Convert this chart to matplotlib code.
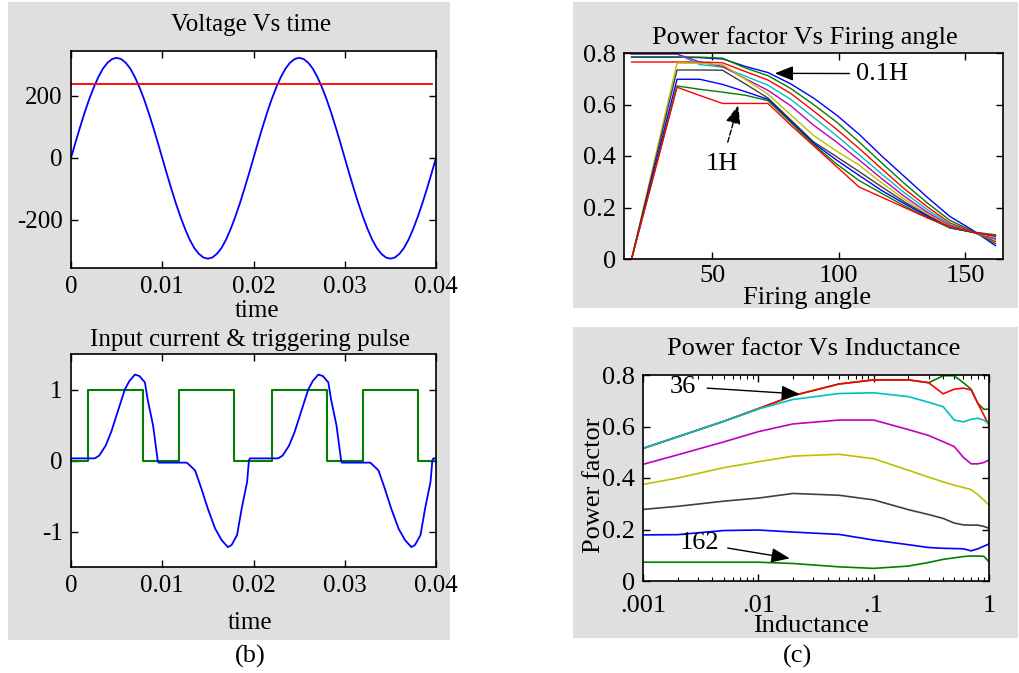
import numpy as np
import matplotlib
matplotlib.use("Agg")
import matplotlib.pyplot as plt
from matplotlib.patches import Rectangle
from matplotlib.ticker import LogLocator, NullFormatter

plt.rcParams['font.family'] = ['Liberation Serif', 'DejaVu Serif']
plt.rcParams['axes.unicode_minus'] = False

# ---------------- data ----------------
# (b) top: supply voltage (sampled every 0.5 ms) and firing level
t_volt = [0.0000, 0.0005, 0.0010, 0.0015, 0.0020, 0.0025, 0.0030, 0.0035, 0.0040, 0.0045,
          0.0050, 0.0055, 0.0060, 0.0065, 0.0070, 0.0075, 0.0080, 0.0085, 0.0090, 0.0095,
          0.0100, 0.0105, 0.0110, 0.0115, 0.0120, 0.0125, 0.0130, 0.0135, 0.0140, 0.0145,
          0.0150, 0.0155, 0.0160, 0.0165, 0.0170, 0.0175, 0.0180, 0.0185, 0.0190, 0.0195,
          0.0200, 0.0205, 0.0210, 0.0215, 0.0220, 0.0225, 0.0230, 0.0235, 0.0240, 0.0245,
          0.0250, 0.0255, 0.0260, 0.0265, 0.0270, 0.0275, 0.0280, 0.0285, 0.0290, 0.0295,
          0.0300, 0.0305, 0.0310, 0.0315, 0.0320, 0.0325, 0.0330, 0.0335, 0.0340, 0.0345,
          0.0350, 0.0355, 0.0360, 0.0365, 0.0370, 0.0375, 0.0380, 0.0385, 0.0390, 0.0395,
          0.0400]
volt = [0, 51, 100, 147, 190, 228, 261, 288, 307, 319,
        323, 319, 307, 288, 261, 228, 190, 147, 100, 51,
        0, -51, -100, -147, -190, -229, -263, -290, -309, -321,
        -325, -321, -309, -290, -263, -229, -190, -147, -100, -51,
        0, 51, 100, 147, 190, 228, 261, 288, 307, 319,
        323, 319, 307, 288, 261, 228, 190, 147, 100, 51,
        0, -51, -100, -147, -190, -229, -263, -290, -309, -321,
        -325, -321, -309, -290, -263, -229, -190, -147, -100, -51,
        0]
t_level = [0.0, 0.0396]
level = [240, 240]

# (b) bottom: input current and triggering pulse
t_cur = [0.0000, 0.0026, 0.0031, 0.0038, 0.0044, 0.0051, 0.0059, 0.0064, 0.0070,
         0.0075, 0.0081, 0.0084, 0.0090, 0.0095, 0.0096, 0.0127, 0.0136, 0.0143,
         0.0150, 0.0158, 0.0165, 0.0172, 0.0176, 0.0182, 0.0187, 0.0193, 0.0195,
         0.0196, 0.0220, 0.0227, 0.0232, 0.0239, 0.0245, 0.0252, 0.0260, 0.0265,
         0.0271, 0.0276, 0.0282, 0.0285, 0.0291, 0.0296, 0.0297, 0.0328, 0.0337,
         0.0344, 0.0351, 0.0359, 0.0366, 0.0373, 0.0377, 0.0383, 0.0388, 0.0394,
         0.0396, 0.0397, 0.0400]
cur = [0.03, 0.03, 0.07, 0.21, 0.40, 0.68, 1.00, 1.12, 1.21,
       1.19, 1.10, 0.86, 0.49, 0.00, -0.03, -0.03, -0.14, -0.40,
       -0.68, -0.96, -1.12, -1.22, -1.19, -1.05, -0.68, -0.30, 0.00,
       0.03, 0.03, 0.03, 0.07, 0.21, 0.40, 0.68, 1.00, 1.12,
       1.21, 1.19, 1.10, 0.86, 0.49, 0.00, -0.03, -0.03, -0.14,
       -0.40, -0.68, -0.96, -1.12, -1.22, -1.19, -1.05, -0.68, -0.30,
       0.00, 0.03, 0.03]
t_pulse = [0.0, 0.0019, 0.0079, 0.0118, 0.0179, 0.0220, 0.0281, 0.0320, 0.0380, 0.0400]
pulse = [0, 1, 0, 1, 0, 1, 0, 1, 0, 0]

# (c) top: power factor vs firing angle, one curve per inductance (0.1H .. 1H)
angles = [18, 27, 36, 45, 54, 63, 72, 81, 90, 99, 108, 117, 126, 135, 144, 153, 162]
pf_01H = [0.784, 0.784, 0.784, 0.782, 0.777, 0.748, 0.724, 0.680, 0.625, 0.560, 0.485, 0.400, 0.320, 0.240, 0.165, 0.112, 0.052]
pf_02H = [0.784, 0.784, 0.784, 0.784, 0.780, 0.742, 0.712, 0.662, 0.600, 0.533, 0.455, 0.373, 0.293, 0.218, 0.150, 0.108, 0.060]
pf_03H = [0.765, 0.765, 0.765, 0.765, 0.762, 0.728, 0.695, 0.643, 0.575, 0.505, 0.430, 0.350, 0.272, 0.203, 0.140, 0.105, 0.068]
pf_04H = [0.796, 0.796, 0.796, 0.755, 0.745, 0.710, 0.675, 0.620, 0.550, 0.480, 0.405, 0.330, 0.257, 0.192, 0.134, 0.104, 0.075]
pf_05H = [0.796, 0.796, 0.796, 0.765, 0.748, 0.700, 0.655, 0.595, 0.520, 0.455, 0.385, 0.312, 0.243, 0.182, 0.129, 0.104, 0.080]
pf_06H = [0.000, 0.380, 0.761, 0.760, 0.755, 0.698, 0.640, 0.560, 0.480, 0.420, 0.365, 0.296, 0.232, 0.176, 0.125, 0.104, 0.085]
pf_07H = [0.000, 0.367, 0.734, 0.734, 0.733, 0.680, 0.625, 0.540, 0.455, 0.398, 0.340, 0.280, 0.222, 0.170, 0.122, 0.104, 0.090]
pf_08H = [0.000, 0.349, 0.698, 0.698, 0.678, 0.650, 0.620, 0.535, 0.450, 0.385, 0.325, 0.266, 0.215, 0.166, 0.121, 0.104, 0.090]
pf_09H = [0.000, 0.336, 0.672, 0.659, 0.648, 0.636, 0.615, 0.530, 0.445, 0.370, 0.305, 0.255, 0.206, 0.161, 0.121, 0.105, 0.094]
pf_10H = [0.000, 0.333, 0.667, 0.635, 0.604, 0.604, 0.604, 0.520, 0.440, 0.360, 0.280, 0.240, 0.200, 0.160, 0.125, 0.105, 0.090]

# (c) bottom: power factor vs inductance, one curve per firing angle (36 .. 162)
induct = [0.001, 0.002, 0.005, 0.01, 0.02, 0.05, 0.1, 0.2, 0.3, 0.4, 0.5, 0.6, 0.7, 0.8, 0.9, 1.0]
pf_a36 = [0.515, 0.560, 0.620, 0.668, 0.720, 0.765, 0.781, 0.781, 0.770, 0.797, 0.797, 0.770, 0.745, 0.690, 0.667, 0.667]
pf_a54 = [0.515, 0.560, 0.620, 0.670, 0.720, 0.765, 0.781, 0.781, 0.770, 0.727, 0.745, 0.749, 0.742, 0.690, 0.645, 0.605]
pf_a72 = [0.515, 0.560, 0.620, 0.668, 0.705, 0.728, 0.731, 0.716, 0.694, 0.677, 0.625, 0.618, 0.628, 0.632, 0.625, 0.610]
pf_a90 = [0.453, 0.490, 0.540, 0.580, 0.610, 0.625, 0.625, 0.588, 0.565, 0.541, 0.522, 0.480, 0.455, 0.455, 0.460, 0.470]
pf_a108 = [0.375, 0.400, 0.440, 0.463, 0.485, 0.492, 0.475, 0.430, 0.403, 0.385, 0.372, 0.363, 0.355, 0.335, 0.315, 0.295]
pf_a126 = [0.278, 0.290, 0.310, 0.322, 0.340, 0.333, 0.315, 0.277, 0.258, 0.243, 0.225, 0.218, 0.217, 0.217, 0.212, 0.205]
pf_a144 = [0.179, 0.180, 0.196, 0.198, 0.190, 0.181, 0.159, 0.141, 0.130, 0.127, 0.126, 0.125, 0.117, 0.125, 0.135, 0.144]
pf_a162 = [0.073, 0.073, 0.073, 0.073, 0.068, 0.055, 0.049, 0.058, 0.072, 0.084, 0.090, 0.095, 0.097, 0.097, 0.096, 0.075]

# old matlab line colours
C_B = (0, 0, 1)
C_G = (0, 0.5, 0)
C_R = (1, 0, 0)
C_C = (0, 0.75, 0.75)
C_M = (0.75, 0, 0.75)
C_Y = (0.75, 0.75, 0)
C_K = (0.25, 0.25, 0.25)

# ---------------- figure / layout in pixels ----------------
W, H = 1019, 673
fig = plt.figure(figsize=(W / 100, H / 100), dpi=100)
fig.patch.set_facecolor('white')
GRAY = (0.875, 0.875, 0.875)
ARROW = '-|>,head_length=0.75,head_width=0.3'


def px_rect(l, t, r, b):
    return [l / W, 1 - b / H, (r - l) / W, (b - t) / H]


def gray_panel(l, t, r, b):
    # drawn below the axes
    fig.patches.append(Rectangle((l / W, 1 - b / H), (r - l) / W, (b - t) / H,
                                 transform=fig.transFigure, facecolor=GRAY,
                                 edgecolor='none', zorder=-10))


def ftext(x, y, s, size, **kw):
    fig.text(x / W, 1 - y / H, s, fontsize=size, ha='center', va='baseline', **kw)


def matlab_axes(ax, size):
    ax.set_facecolor('white')
    for sp in ax.spines.values():
        sp.set_linewidth(1.2)
        sp.set_color('black')
    ax.tick_params(direction='in', top=True, right=True, length=5, width=1.0,
                   labelsize=size, pad=6, colors='black')


gray_panel(8, 2, 450, 640)
gray_panel(573, 2, 1018, 308)
gray_panel(573, 327, 1018, 638)

# ---- (b) top: voltage ----
ax1 = fig.add_axes(px_rect(71, 51, 436, 268))
matlab_axes(ax1, 18)
ax1.plot(t_volt, volt, color=C_B, lw=1.3)
ax1.plot(t_level, level, color=C_R, lw=1.3)
ax1.set_xlim(0, 0.04)
ax1.set_ylim(-355, 345)
ax1.set_xticks([0, 0.01, 0.02, 0.03, 0.04])
ax1.set_xticklabels(['0', '0.01', '0.02', '0.03', '0.04'])
ax1.set_yticks([-200, 0, 200])
ftext(251, 31, 'Voltage Vs time', 18)
ftext(257, 317, 'time', 18)

# ---- (b) bottom: current & pulse ----
ax2 = fig.add_axes(px_rect(71, 354, 436, 567))
matlab_axes(ax2, 18)
ax2.step(t_pulse, pulse, where='post', color=C_G, lw=1.5)
ax2.plot(t_cur, cur, color=C_B, lw=1.3)
ax2.set_xlim(0, 0.04)
ax2.set_ylim(-1.5, 1.5)
ax2.set_xticks([0, 0.01, 0.02, 0.03, 0.04])
ax2.set_xticklabels(['0', '0.01', '0.02', '0.03', '0.04'])
ax2.set_yticks([-1, 0, 1])
ftext(250, 346, 'Input current & triggering pulse', 18)
ftext(250, 629, 'time', 18)
ftext(250, 663, '(b)', 19)

# ---- (c) top: PF vs firing angle ----
ax3 = fig.add_axes(px_rect(624, 53, 1003, 259))
matlab_axes(ax3, 19)
ax3.tick_params(axis='x', pad=4)
curves_L = [pf_01H, pf_02H, pf_03H, pf_04H, pf_05H, pf_06H, pf_07H, pf_08H, pf_09H, pf_10H]
cols_L = [C_B, C_G, C_R, C_C, C_M, C_Y, C_K, C_B, C_G, C_R]
for pf, c in zip(curves_L, cols_L):
    ax3.plot(angles, pf, color=c, lw=1.0)
ax3.set_xlim(15, 165)
ax3.set_ylim(0, 0.8)
ax3.set_xticks([50, 100, 150])
ax3.set_yticks([0, 0.2, 0.4, 0.6, 0.8])
ax3.set_yticklabels(['0', '0.2', '0.4', '0.6', '0.8'])
ax3.annotate('0.1H', xy=(74.7, 0.721), xytext=(107, 0.72), ha='left', va='center',
             fontsize=19,
             arrowprops=dict(arrowstyle=ARROW, color='k', lw=1.0,
                             mutation_scale=15, shrinkA=3, shrinkB=0))
ax3.annotate('1H', xy=(60.2, 0.597), xytext=(53.6, 0.369), ha='center', va='center',
             fontsize=19,
             arrowprops=dict(arrowstyle=ARROW, color='k', lw=1.0, ls='--',
                             mutation_scale=15, shrinkA=6, shrinkB=0))
ftext(805, 44, 'Power factor Vs Firing angle', 19)
ftext(807, 304, 'Firing angle', 19)

# ---- (c) bottom: PF vs inductance ----
ax4 = fig.add_axes(px_rect(643, 375, 989, 581))
matlab_axes(ax4, 19)
ax4.tick_params(axis='x', pad=10)
curves_A = [pf_a36, pf_a54, pf_a72, pf_a90, pf_a108, pf_a126, pf_a144, pf_a162]
cols_A = [C_G, C_R, C_C, C_M, C_Y, C_K, C_B, C_G]
for pf, c in zip(curves_A, cols_A):
    ax4.plot(induct, pf, color=c, lw=1.2)
ax4.set_xscale('log')
ax4.set_xlim(0.001, 1)
ax4.set_ylim(0, 0.8)
ax4.set_xticks([0.001, 0.01, 0.1, 1])
ax4.set_xticklabels(['.001', '.01', '.1', '1'])
ax4.xaxis.set_minor_locator(LogLocator(base=10, subs=range(2, 10)))
ax4.xaxis.set_minor_formatter(NullFormatter())
ax4.tick_params(which='minor', direction='in', top=True, length=3, width=0.8)
ax4.set_yticks([0, 0.2, 0.4, 0.6, 0.8])
ax4.set_yticklabels(['0', '0.2', '0.4', '0.6', '0.8'])
ax4.annotate('36', xy=(0.0229, 0.726), xytext=(0.00222, 0.755), ha='center', va='center',
             fontsize=19,
             arrowprops=dict(arrowstyle=ARROW, color='k', lw=1.0,
                             mutation_scale=15, shrinkA=6, shrinkB=0))
ax4.annotate('162', xy=(0.0187, 0.088), xytext=(0.0031, 0.146), ha='center', va='center',
             fontsize=19,
             arrowprops=dict(arrowstyle=ARROW, color='k', lw=1.0,
                             mutation_scale=15, shrinkA=4, shrinkB=0))
ftext(814, 355, 'Power factor Vs Inductance', 19)
ftext(811, 632, 'Inductance', 19)
# the y label sits over the tick labels, as in the original
fig.text(594 / W, 1 - 485 / H, 'Power factor', fontsize=19, rotation=90,
         ha='center', va='center')
ftext(797, 663, '(c)', 19)

fig.savefig('out.png', dpi=100, facecolor='white')
